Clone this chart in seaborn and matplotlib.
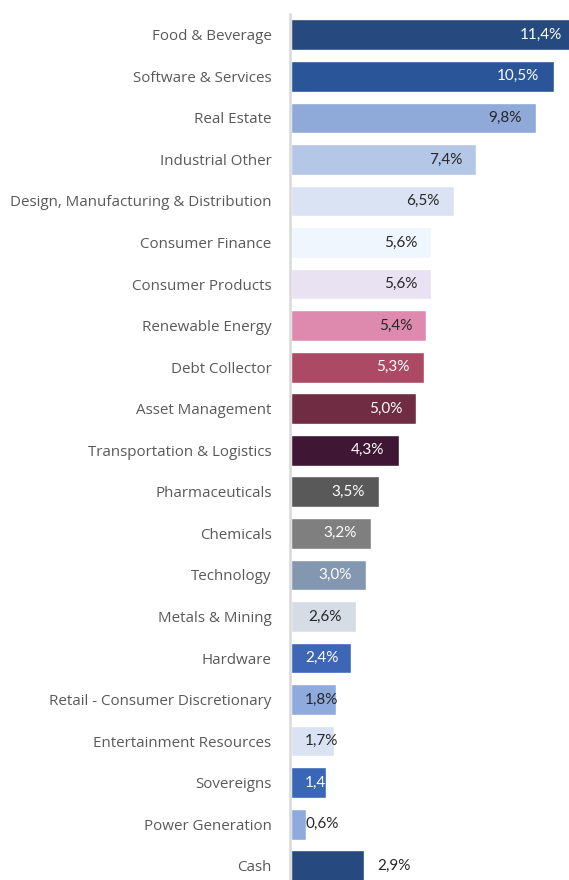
import matplotlib
matplotlib.use("Agg")
import matplotlib.pyplot as plt
import seaborn as sns
import numpy as np

categories = ["Food & Beverage", "Software & Services", "Real Estate", "Industrial Other",
              "Design, Manufacturing & Distribution", "Consumer Finance", "Consumer Products",
              "Renewable Energy", "Debt Collector", "Asset Management",
              "Transportation & Logistics", "Pharmaceuticals", "Chemicals", "Technology",
              "Metals & Mining", "Hardware", "Retail - Consumer Discretionary",
              "Entertainment Resources", "Sovereigns", "Power Generation", "Cash"]
values = [11.4, 10.5, 9.8, 7.4, 6.5, 5.6, 5.6, 5.4, 5.3, 5.0, 4.3, 3.5, 3.2, 3.0,
          2.6, 2.4, 1.8, 1.7, 1.4, 0.6, 2.9]
labels = ["11,4%", "10,5%", "9,8%", "7,4%", "6,5%", "5,6%", "5,6%", "5,4%", "5,3%", "5,0%",
          "4,3%", "3,5%", "3,2%", "3,0%", "2,6%", "2,4%", "1,8%", "1,7%", "1,4", "0,6%", "2,9%"]
colors = ["#264A80", "#2A5699", "#8FA9D9", "#B4C7E7", "#DAE3F3", "#EFF6FE", "#E9E2F2",
          "#DE8AAF", "#AC4A65", "#6F2C42", "#3F1734", "#595959", "#7F7F7F", "#8497B0",
          "#D6DCE5", "#3D67B6", "#8FAADC", "#DAE3F3", "#3A66B8", "#8FAADC", "#264A80"]

sns.set_style("white")
plt.rcParams['font.family'] = ['Open Sans', 'DejaVu Sans']

W, H = 569, 880
fig = plt.figure(figsize=(W / 100, H / 100), dpi=100)
px_per_unit = 25.0
ax_left = 291
ax_top = 14
step = 41.55
ax_h = step * len(categories)
ax = fig.add_axes([ax_left / W, 1 - (ax_top + ax_h) / H, (W - ax_left) / W, ax_h / H])

sns.barplot(x=values, y=categories, hue=categories, palette=colors, legend=False,
            width=0.74, orient="h", ax=ax, saturation=1)

ax.set_xlim(0, (W - ax_left) / px_per_unit)
ax.set_ylim(len(categories) - 0.5, -0.5)
ax.set_xticks([])
ax.set_xlabel("")
ax.set_ylabel("")
ax.set_yticks(range(len(categories)), labels=categories)
ax.set_yticks(np.arange(-0.5, len(categories), 1), minor=True)
ax.tick_params(axis="y", which="major", length=0, pad=13, labelsize=10.9,
               labelcolor="#595959")
ax.tick_params(axis="y", which="minor", length=6, width=1.5, color="#D9D9D9")
for s in ["top", "right", "bottom"]:
    ax.spines[s].set_visible(False)
ax.spines["left"].set_color("#D9D9D9")
ax.spines["left"].set_linewidth(1.8)
ax.spines["left"].set_position(("outward", 1))


def is_dark(hexcol):
    r, g, b = [int(hexcol[i:i + 2], 16) / 255 for i in (1, 3, 5)]
    return 0.299 * r + 0.587 * g + 0.114 * b < 0.6


pad = 14 / px_per_unit
for i, (cat, v, lab, c) in enumerate(zip(categories, values, labels, colors)):
    if cat == "Cash":
        x, ha, tc = v + pad, "left", "#262626"
    elif v >= 2.5:
        x, ha = v - pad, "right"
        tc = "white" if is_dark(c) else "#262626"
    else:
        x, ha = pad, "left"
        tc = "white" if is_dark(c) else "#262626"
    ax.text(x, i, lab, ha=ha, va="center", fontsize=11, color=tc,
            family=['Lato', 'DejaVu Sans'])

fig.savefig("out.png", dpi=100)
